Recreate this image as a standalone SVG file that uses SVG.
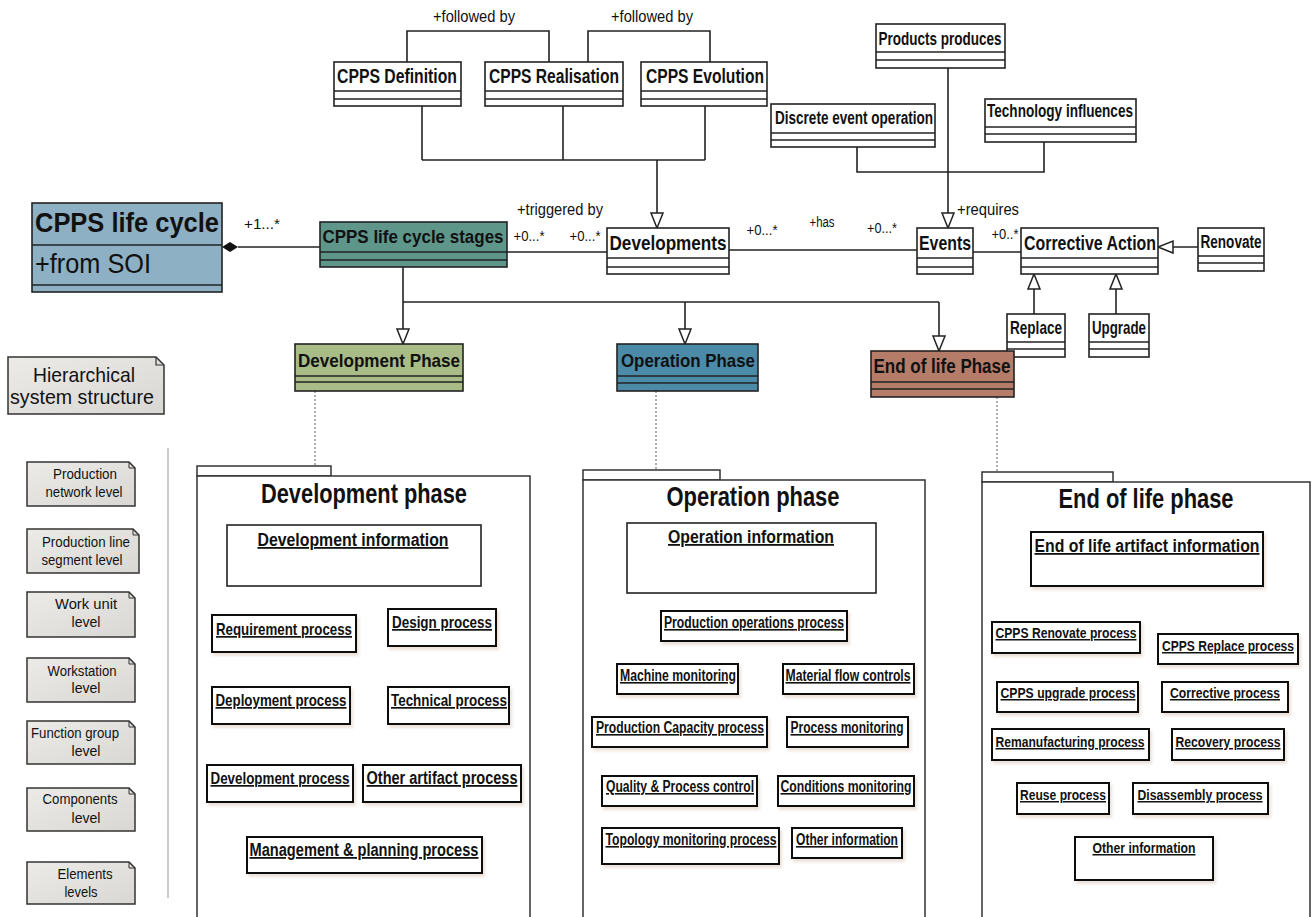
<svg xmlns="http://www.w3.org/2000/svg" width="1312" height="917" viewBox="0 0 1312 917">
<defs>
<style>
text{font-family:"Liberation Sans",Arial,sans-serif;fill:#111}
.b{font-weight:bold}
.u{text-decoration:underline}
.box{fill:#fff;stroke:#222;stroke-width:1.6}
.sep{stroke:#222;stroke-width:1.4}
.ln{fill:none;stroke:#222;stroke-width:1.6}
.dot{fill:none;stroke:#777;stroke-width:1.2;stroke-dasharray:2 2}
.proc{fill:#fff;stroke:#111;stroke-width:2;filter:url(#sh)}
.pkg{fill:#fff;stroke:#333;stroke-width:1.5}
.note{fill:url(#ng);stroke:#333;stroke-width:1.5}
</style>
<filter id="sh" x="-10%" y="-20%" width="130%" height="160%">
<feDropShadow dx="2" dy="3" stdDeviation="1.5" flood-color="#c8a890" flood-opacity="0.35"/>
</filter>
<linearGradient id="ng" x1="0" y1="0" x2="1" y2="1">
<stop offset="0" stop-color="#ecebe8"/><stop offset="1" stop-color="#d9d7d3"/>
</linearGradient>
<marker id="tri" markerUnits="userSpaceOnUse" markerWidth="18" markerHeight="16" viewBox="0 0 18 16" refX="16" refY="7" orient="auto">
<path d="M1,1 L16,7 L1,13 z" fill="#fff" stroke="#222" stroke-width="1.5"/>
</marker>
</defs>
<rect width="1312" height="917" fill="#fff"/>

<!-- connectors -->
<g id="connectors">
<polyline class="ln" points="407,62 407,31 549,31 549,62"/>
<polyline class="ln" points="588,62 588,31 710,31 710,62"/>
<line class="ln" x1="422" y1="106" x2="422" y2="160"/>
<line class="ln" x1="563" y1="106" x2="563" y2="160"/>
<line class="ln" x1="705" y1="106" x2="705" y2="160"/>
<line class="ln" x1="422" y1="160" x2="705" y2="160"/>
<line class="ln" x1="657" y1="160" x2="657" y2="228" marker-end="url(#tri)"/>
<line class="ln" x1="238" y1="247" x2="320" y2="247"/>
<path d="M222,247 L230,242 L238,247 L230,252 z" fill="#111"/>
<line class="ln" x1="507" y1="252" x2="607" y2="252"/>
<line class="ln" x1="729" y1="250" x2="917" y2="250"/>
<line class="ln" x1="973" y1="252" x2="1021" y2="252"/>
<line class="ln" x1="948" y1="68" x2="948" y2="228" marker-end="url(#tri)"/>
<polyline class="ln" points="857,147 857,172 1044,172 1044,142"/>
<line class="ln" x1="1198" y1="247" x2="1158" y2="247" marker-end="url(#tri)"/>
<line class="ln" x1="1034" y1="314" x2="1034" y2="274" marker-end="url(#tri)"/>
<line class="ln" x1="1116" y1="314" x2="1116" y2="274" marker-end="url(#tri)"/>
<line class="ln" x1="403" y1="267" x2="403" y2="302"/>
<line class="ln" x1="403" y1="302" x2="939" y2="302"/>
<line class="ln" x1="403" y1="302" x2="403" y2="344" marker-end="url(#tri)"/>
<line class="ln" x1="685" y1="302" x2="685" y2="344" marker-end="url(#tri)"/>
<line class="ln" x1="939" y1="302" x2="939" y2="351" marker-end="url(#tri)"/>
<line class="dot" x1="315" y1="391" x2="315" y2="466"/>
<line class="dot" x1="656" y1="391" x2="656" y2="470"/>
<line class="dot" x1="997" y1="397" x2="997" y2="472"/>
<line x1="168" y1="448" x2="168" y2="898" stroke="#aaa" stroke-width="1.2"/>
<text x="474" y="22" font-size="16" text-anchor="middle" textLength="82" lengthAdjust="spacingAndGlyphs">+followed by</text>
<text x="652" y="22" font-size="16" text-anchor="middle" textLength="82" lengthAdjust="spacingAndGlyphs">+followed by</text>
<text x="560" y="215" font-size="16" text-anchor="middle" textLength="86" lengthAdjust="spacingAndGlyphs">+triggered by</text>
<text x="529" y="241" font-size="14" text-anchor="middle" textLength="31" lengthAdjust="spacingAndGlyphs">+0...*</text>
<text x="585" y="241" font-size="14" text-anchor="middle" textLength="31" lengthAdjust="spacingAndGlyphs">+0...*</text>
<text x="762" y="235" font-size="14" text-anchor="middle" textLength="31" lengthAdjust="spacingAndGlyphs">+0...*</text>
<text x="822" y="227" font-size="14" text-anchor="middle" textLength="25" lengthAdjust="spacingAndGlyphs">+has</text>
<text x="882" y="233" font-size="14" text-anchor="middle" textLength="30" lengthAdjust="spacingAndGlyphs">+0...*</text>
<text x="988" y="215" font-size="17" text-anchor="middle" textLength="62" lengthAdjust="spacingAndGlyphs">+requires</text>
<text x="1005" y="239" font-size="14" text-anchor="middle" textLength="27" lengthAdjust="spacingAndGlyphs">+0..*</text>
<text x="262" y="229" font-size="14" text-anchor="middle" textLength="36" lengthAdjust="spacingAndGlyphs">+1...*</text>
</g>

<!-- class nodes -->
<g id="cpps-definition">
<rect class="box" x="334" y="62" width="127" height="44"/>
<line class="sep" x1="334" y1="91" x2="461" y2="91"/><line class="sep" x1="334" y1="99" x2="461" y2="99"/>
<text class="b" x="397" y="83" font-size="21" text-anchor="middle" textLength="120" lengthAdjust="spacingAndGlyphs">CPPS Definition</text>
</g>
<g id="cpps-realisation">
<rect class="box" x="485" y="62" width="138" height="44"/>
<line class="sep" x1="485" y1="91" x2="623" y2="91"/><line class="sep" x1="485" y1="99" x2="623" y2="99"/>
<text class="b" x="554" y="83" font-size="21" text-anchor="middle" textLength="130" lengthAdjust="spacingAndGlyphs">CPPS Realisation</text>
</g>
<g id="cpps-evolution">
<rect class="box" x="641" y="62" width="126" height="44"/>
<line class="sep" x1="641" y1="91" x2="767" y2="91"/><line class="sep" x1="641" y1="99" x2="767" y2="99"/>
<text class="b" x="705" y="83" font-size="21" text-anchor="middle" textLength="118" lengthAdjust="spacingAndGlyphs">CPPS Evolution</text>
</g>
<g id="products-produces">
<rect class="box" x="876" y="24" width="129" height="44"/>
<line class="sep" x1="876" y1="52" x2="1005" y2="52"/><line class="sep" x1="876" y1="60" x2="1005" y2="60"/>
<text class="b" x="940" y="45" font-size="18" text-anchor="middle" textLength="123" lengthAdjust="spacingAndGlyphs">Products produces</text>
</g>
<g id="discrete-event-operation">
<rect class="box" x="771" y="104" width="164" height="43"/>
<line class="sep" x1="771" y1="133" x2="935" y2="133"/><line class="sep" x1="771" y1="140" x2="935" y2="140"/>
<text class="b" x="854" y="124" font-size="18" text-anchor="middle" textLength="158" lengthAdjust="spacingAndGlyphs">Discrete event operation</text>
</g>
<g id="technology-influences">
<rect class="box" x="985" y="99" width="151" height="43"/>
<line class="sep" x1="985" y1="127" x2="1136" y2="127"/><line class="sep" x1="985" y1="134" x2="1136" y2="134"/>
<text class="b" x="1060" y="117" font-size="18" text-anchor="middle" textLength="146" lengthAdjust="spacingAndGlyphs">Technology influences</text>
</g>
<g id="cpps-life-cycle">
<rect x="32" y="203" width="190" height="89" fill="#8db0c4" stroke="#222" stroke-width="1.6"/>
<line class="sep" x1="32" y1="245" x2="222" y2="245"/><line class="sep" x1="32" y1="285" x2="222" y2="285"/>
<text class="b" x="127" y="232" font-size="27" text-anchor="middle" textLength="184" lengthAdjust="spacingAndGlyphs">CPPS life cycle</text>
<text x="35" y="273" font-size="28" textLength="116" lengthAdjust="spacingAndGlyphs">+from SOI</text>
</g>
<g id="cpps-life-cycle-stages">
<rect x="320" y="222" width="187" height="45" fill="#5f968a" stroke="#222" stroke-width="1.6"/>
<line class="sep" x1="320" y1="252" x2="507" y2="252"/><line class="sep" x1="320" y1="260" x2="507" y2="260"/>
<text class="b" x="413" y="243" font-size="18" text-anchor="middle" textLength="181" lengthAdjust="spacingAndGlyphs">CPPS life cycle stages</text>
</g>
<g id="developments">
<rect class="box" x="607" y="228" width="122" height="46"/>
<line class="sep" x1="607" y1="258" x2="729" y2="258"/><line class="sep" x1="607" y1="267" x2="729" y2="267"/>
<text class="b" x="668" y="250" font-size="21" text-anchor="middle" textLength="117" lengthAdjust="spacingAndGlyphs">Developments</text>
</g>
<g id="events">
<rect class="box" x="917" y="228" width="56" height="46"/>
<line class="sep" x1="917" y1="258" x2="973" y2="258"/><line class="sep" x1="917" y1="267" x2="973" y2="267"/>
<text class="b" x="945" y="250" font-size="21" text-anchor="middle" textLength="52" lengthAdjust="spacingAndGlyphs">Events</text>
</g>
<g id="corrective-action">
<rect class="box" x="1021" y="228" width="137" height="46"/>
<line class="sep" x1="1021" y1="258" x2="1158" y2="258"/><line class="sep" x1="1021" y1="267" x2="1158" y2="267"/>
<text class="b" x="1090" y="250" font-size="21" text-anchor="middle" textLength="132" lengthAdjust="spacingAndGlyphs">Corrective Action</text>
</g>
<g id="renovate">
<rect class="box" x="1198" y="228" width="66" height="43" stroke="#2a3f55"/>
<line class="sep" x1="1198" y1="256" x2="1264" y2="256"/><line class="sep" x1="1198" y1="263" x2="1264" y2="263"/>
<text class="b" x="1231" y="248" font-size="18" text-anchor="middle" textLength="61" lengthAdjust="spacingAndGlyphs">Renovate</text>
</g>
<g id="replace">
<rect class="box" x="1007" y="314" width="58" height="43"/>
<line class="sep" x1="1007" y1="342" x2="1065" y2="342"/><line class="sep" x1="1007" y1="349" x2="1065" y2="349"/>
<text class="b" x="1036" y="334" font-size="19" text-anchor="middle" textLength="52" lengthAdjust="spacingAndGlyphs">Replace</text>
</g>
<g id="upgrade">
<rect class="box" x="1089" y="314" width="60" height="43"/>
<line class="sep" x1="1089" y1="342" x2="1149" y2="342"/><line class="sep" x1="1089" y1="349" x2="1149" y2="349"/>
<text class="b" x="1119" y="334" font-size="19" text-anchor="middle" textLength="54" lengthAdjust="spacingAndGlyphs">Upgrade</text>
</g>
<g id="development-phase-class">
<rect x="295" y="344" width="168" height="47" fill="#a9bc87" stroke="#222" stroke-width="1.6"/>
<line class="sep" x1="295" y1="376" x2="463" y2="376"/><line class="sep" x1="295" y1="382" x2="463" y2="382"/>
<text class="b" x="379" y="367" font-size="19" text-anchor="middle" textLength="162" lengthAdjust="spacingAndGlyphs">Development Phase</text>
</g>
<g id="operation-phase-class">
<rect x="617" y="344" width="141" height="47" fill="#4b8ba8" stroke="#222" stroke-width="1.6"/>
<line class="sep" x1="617" y1="376" x2="758" y2="376"/><line class="sep" x1="617" y1="383" x2="758" y2="383"/>
<text class="b" x="688" y="367" font-size="19" text-anchor="middle" textLength="134" lengthAdjust="spacingAndGlyphs">Operation Phase</text>
</g>
<g id="end-of-life-phase-class">
<rect x="871" y="351" width="143" height="46" fill="#b47c69" stroke="#222" stroke-width="1.6"/>
<line class="sep" x1="871" y1="382" x2="1014" y2="382"/><line class="sep" x1="871" y1="389" x2="1014" y2="389"/>
<text class="b" x="942" y="373" font-size="20" text-anchor="middle" textLength="137" lengthAdjust="spacingAndGlyphs">End of life Phase</text>
</g>

<!-- notes -->
<g id="note-hierarchical">
<path class="note" d="M8,357 H156 L164,365 V414 H8 Z"/>
<path d="M156,357 V365 H164" fill="none" stroke="#333" stroke-width="1.2"/>
<text x="84" y="382" font-size="21" text-anchor="middle" textLength="102" lengthAdjust="spacingAndGlyphs">Hierarchical</text>
<text x="82" y="404" font-size="21" text-anchor="middle" textLength="144" lengthAdjust="spacingAndGlyphs">system structure</text>
</g>
<g id="note-production-network">
<path class="note" d="M27,462 H129 L135,468 V506 H27 Z"/><path d="M129,462 V468 H135" fill="none" stroke="#333"/>
<text x="85" y="479" font-size="14" text-anchor="middle" textLength="64" lengthAdjust="spacingAndGlyphs">Production</text>
<text x="84" y="497" font-size="14" text-anchor="middle" textLength="77" lengthAdjust="spacingAndGlyphs">network level</text>
</g>
<g id="note-production-line">
<path class="note" d="M27,529 H133 L139,535 V573 H27 Z"/><path d="M133,529 V535 H139" fill="none" stroke="#333"/>
<text x="86" y="547" font-size="14" text-anchor="middle" textLength="88" lengthAdjust="spacingAndGlyphs">Production line</text>
<text x="82" y="565" font-size="14" text-anchor="middle" textLength="81" lengthAdjust="spacingAndGlyphs">segment level</text>
</g>
<g id="note-work-unit">
<path class="note" d="M27,592 H129 L135,598 V637 H27 Z"/><path d="M129,592 V598 H135" fill="none" stroke="#333"/>
<text x="86" y="609" font-size="15" text-anchor="middle" textLength="62" lengthAdjust="spacingAndGlyphs">Work unit</text>
<text x="86" y="627" font-size="15" text-anchor="middle" textLength="29" lengthAdjust="spacingAndGlyphs">level</text>
</g>
<g id="note-workstation">
<path class="note" d="M27,658 H129 L135,664 V702 H27 Z"/><path d="M129,658 V664 H135" fill="none" stroke="#333"/>
<text x="82" y="676" font-size="14" text-anchor="middle" textLength="69" lengthAdjust="spacingAndGlyphs">Workstation</text>
<text x="86" y="693" font-size="14" text-anchor="middle" textLength="29" lengthAdjust="spacingAndGlyphs">level</text>
</g>
<g id="note-function-group">
<path class="note" d="M27,721 H129 L135,727 V764 H27 Z"/><path d="M129,721 V727 H135" fill="none" stroke="#333"/>
<text x="75" y="738" font-size="14" text-anchor="middle" textLength="88" lengthAdjust="spacingAndGlyphs">Function group</text>
<text x="86" y="756" font-size="14" text-anchor="middle" textLength="29" lengthAdjust="spacingAndGlyphs">level</text>
</g>
<g id="note-components">
<path class="note" d="M27,788 H129 L135,794 V831 H27 Z"/><path d="M129,788 V794 H135" fill="none" stroke="#333"/>
<text x="80" y="804" font-size="14" text-anchor="middle" textLength="75" lengthAdjust="spacingAndGlyphs">Components</text>
<text x="86" y="823" font-size="14" text-anchor="middle" textLength="29" lengthAdjust="spacingAndGlyphs">level</text>
</g>
<g id="note-elements">
<path class="note" d="M27,862 H129 L135,868 V904 H27 Z"/><path d="M129,862 V868 H135" fill="none" stroke="#333"/>
<text x="85" y="879" font-size="14" text-anchor="middle" textLength="55" lengthAdjust="spacingAndGlyphs">Elements</text>
<text x="81" y="897" font-size="14" text-anchor="middle" textLength="33" lengthAdjust="spacingAndGlyphs">levels</text>
</g>

<!-- Development phase package -->
<g id="pkg-development">
<rect class="pkg" x="197" y="466" width="134" height="10"/>
<rect class="pkg" x="197" y="476" width="333" height="450"/>
<text class="b" x="364" y="503" font-size="27" text-anchor="middle" textLength="206" lengthAdjust="spacingAndGlyphs">Development phase</text>
</g>
<g id="development-information">
<rect class="box" x="227" y="525" width="254" height="61"/>
<text class="b u" x="353" y="546" font-size="18" text-anchor="middle" textLength="191" lengthAdjust="spacingAndGlyphs">Development information</text>
</g>
<g id="requirement-process">
<rect class="proc" x="212" y="615" width="144" height="37"/>
<text class="b u" x="284" y="635" font-size="17" text-anchor="middle" textLength="136" lengthAdjust="spacingAndGlyphs">Requirement process</text>
</g>
<g id="design-process">
<rect class="proc" x="388" y="609" width="108" height="37"/>
<text class="b u" x="442" y="628" font-size="17" text-anchor="middle" textLength="100" lengthAdjust="spacingAndGlyphs">Design process</text>
</g>
<g id="deployment-process">
<rect class="proc" x="212" y="687" width="138" height="37"/>
<text class="b u" x="281" y="706" font-size="17" text-anchor="middle" textLength="131" lengthAdjust="spacingAndGlyphs">Deployment process</text>
</g>
<g id="technical-process">
<rect class="proc" x="388" y="687" width="121" height="37"/>
<text class="b u" x="449" y="706" font-size="17" text-anchor="middle" textLength="116" lengthAdjust="spacingAndGlyphs">Technical process</text>
</g>
<g id="development-process">
<rect class="proc" x="207" y="765" width="146" height="37"/>
<text class="b u" x="280" y="784" font-size="17" text-anchor="middle" textLength="139" lengthAdjust="spacingAndGlyphs">Development process</text>
</g>
<g id="other-artifact-process">
<rect class="proc" x="363" y="765" width="158" height="37"/>
<text class="b u" x="442" y="784" font-size="18" text-anchor="middle" textLength="151" lengthAdjust="spacingAndGlyphs">Other artifact process</text>
</g>
<g id="management-planning-process">
<rect class="proc" x="247" y="837" width="235" height="36"/>
<text class="b u" x="364" y="856" font-size="18" text-anchor="middle" textLength="229" lengthAdjust="spacingAndGlyphs">Management &amp; planning process</text>
</g>

<!-- Operation phase package -->
<g id="pkg-operation">
<rect class="pkg" x="583" y="470" width="137" height="10"/>
<rect class="pkg" x="583" y="480" width="342" height="450"/>
<text class="b" x="753" y="506" font-size="27" text-anchor="middle" textLength="173" lengthAdjust="spacingAndGlyphs">Operation phase</text>
</g>
<g id="operation-information">
<rect class="box" x="627" y="523" width="249" height="70"/>
<text class="b u" x="751" y="543" font-size="18" text-anchor="middle" textLength="166" lengthAdjust="spacingAndGlyphs">Operation information</text>
</g>
<g id="production-operations-process">
<rect class="proc" x="661" y="611" width="186" height="30"/>
<text class="b u" x="754" y="628" font-size="16" text-anchor="middle" textLength="180" lengthAdjust="spacingAndGlyphs">Production operations process</text>
</g>
<g id="machine-monitoring">
<rect class="proc" x="617" y="664" width="121" height="30"/>
<text class="b u" x="678" y="681" font-size="16" text-anchor="middle" textLength="116" lengthAdjust="spacingAndGlyphs">Machine monitoring</text>
</g>
<g id="material-flow-controls">
<rect class="proc" x="783" y="664" width="131" height="30"/>
<text class="b u" x="848" y="681" font-size="16" text-anchor="middle" textLength="125" lengthAdjust="spacingAndGlyphs">Material flow controls</text>
</g>
<g id="production-capacity-process">
<rect class="proc" x="592" y="717" width="175" height="30"/>
<text class="b u" x="680" y="733" font-size="16" text-anchor="middle" textLength="168" lengthAdjust="spacingAndGlyphs">Production Capacity process</text>
</g>
<g id="process-monitoring">
<rect class="proc" x="787" y="717" width="121" height="30"/>
<text class="b u" x="847" y="733" font-size="16" text-anchor="middle" textLength="113" lengthAdjust="spacingAndGlyphs">Process monitoring</text>
</g>
<g id="quality-process-control">
<rect class="proc" x="602" y="776" width="155" height="30"/>
<text class="b u" x="680" y="792" font-size="16" text-anchor="middle" textLength="148" lengthAdjust="spacingAndGlyphs">Quality &amp; Process control</text>
</g>
<g id="conditions-monitoring">
<rect class="proc" x="778" y="776" width="136" height="30"/>
<text class="b u" x="846" y="792" font-size="16" text-anchor="middle" textLength="131" lengthAdjust="spacingAndGlyphs">Conditions monitoring</text>
</g>
<g id="topology-monitoring-process">
<rect class="proc" x="602" y="828" width="177" height="36"/>
<text class="b u" x="691" y="845" font-size="16" text-anchor="middle" textLength="171" lengthAdjust="spacingAndGlyphs">Topology monitoring process</text>
</g>
<g id="other-information-operation">
<rect class="proc" x="792" y="828" width="110" height="30"/>
<text class="b u" x="847" y="845" font-size="16" text-anchor="middle" textLength="102" lengthAdjust="spacingAndGlyphs">Other information</text>
</g>

<!-- End of life phase package -->
<g id="pkg-end-of-life">
<rect class="pkg" x="982" y="472" width="131" height="10"/>
<rect class="pkg" x="982" y="482" width="328" height="450"/>
<text class="b" x="1146" y="508" font-size="27" text-anchor="middle" textLength="175" lengthAdjust="spacingAndGlyphs">End of life phase</text>
</g>
<g id="end-of-life-artifact-information">
<rect class="proc" x="1031" y="532" width="232" height="54"/>
<text class="b u" x="1147" y="552" font-size="18" text-anchor="middle" textLength="225" lengthAdjust="spacingAndGlyphs">End of life artifact information</text>
</g>
<g id="cpps-renovate-process">
<rect class="proc" x="992" y="622" width="148" height="31"/>
<text class="b u" x="1066" y="638" font-size="15" text-anchor="middle" textLength="141" lengthAdjust="spacingAndGlyphs">CPPS Renovate process</text>
</g>
<g id="cpps-replace-process">
<rect class="proc" x="1158" y="634" width="140" height="30"/>
<text class="b u" x="1228" y="651" font-size="15" text-anchor="middle" textLength="132" lengthAdjust="spacingAndGlyphs">CPPS Replace process</text>
</g>
<g id="cpps-upgrade-process">
<rect class="proc" x="997" y="682" width="141" height="30"/>
<text class="b u" x="1068" y="698" font-size="15" text-anchor="middle" textLength="135" lengthAdjust="spacingAndGlyphs">CPPS upgrade process</text>
</g>
<g id="corrective-process">
<rect class="proc" x="1162" y="682" width="126" height="30"/>
<text class="b u" x="1225" y="698" font-size="15" text-anchor="middle" textLength="110" lengthAdjust="spacingAndGlyphs">Corrective process</text>
</g>
<g id="remanufacturing-process">
<rect class="proc" x="992" y="729" width="157" height="31"/>
<text class="b u" x="1070" y="747" font-size="15" text-anchor="middle" textLength="149" lengthAdjust="spacingAndGlyphs">Remanufacturing process</text>
</g>
<g id="recovery-process">
<rect class="proc" x="1172" y="729" width="112" height="31"/>
<text class="b u" x="1228" y="747" font-size="15" text-anchor="middle" textLength="105" lengthAdjust="spacingAndGlyphs">Recovery process</text>
</g>
<g id="reuse-process">
<rect class="proc" x="1017" y="783" width="92" height="31"/>
<text class="b u" x="1063" y="800" font-size="15" text-anchor="middle" textLength="86" lengthAdjust="spacingAndGlyphs">Reuse process</text>
</g>
<g id="disassembly-process">
<rect class="proc" x="1133" y="783" width="135" height="31"/>
<text class="b u" x="1200" y="800" font-size="15" text-anchor="middle" textLength="125" lengthAdjust="spacingAndGlyphs">Disassembly process</text>
</g>
<g id="other-information-eol">
<rect class="proc" x="1075" y="837" width="138" height="43"/>
<text class="b u" x="1144" y="853" font-size="15" text-anchor="middle" textLength="103" lengthAdjust="spacingAndGlyphs">Other information</text>
</g>
</svg>
